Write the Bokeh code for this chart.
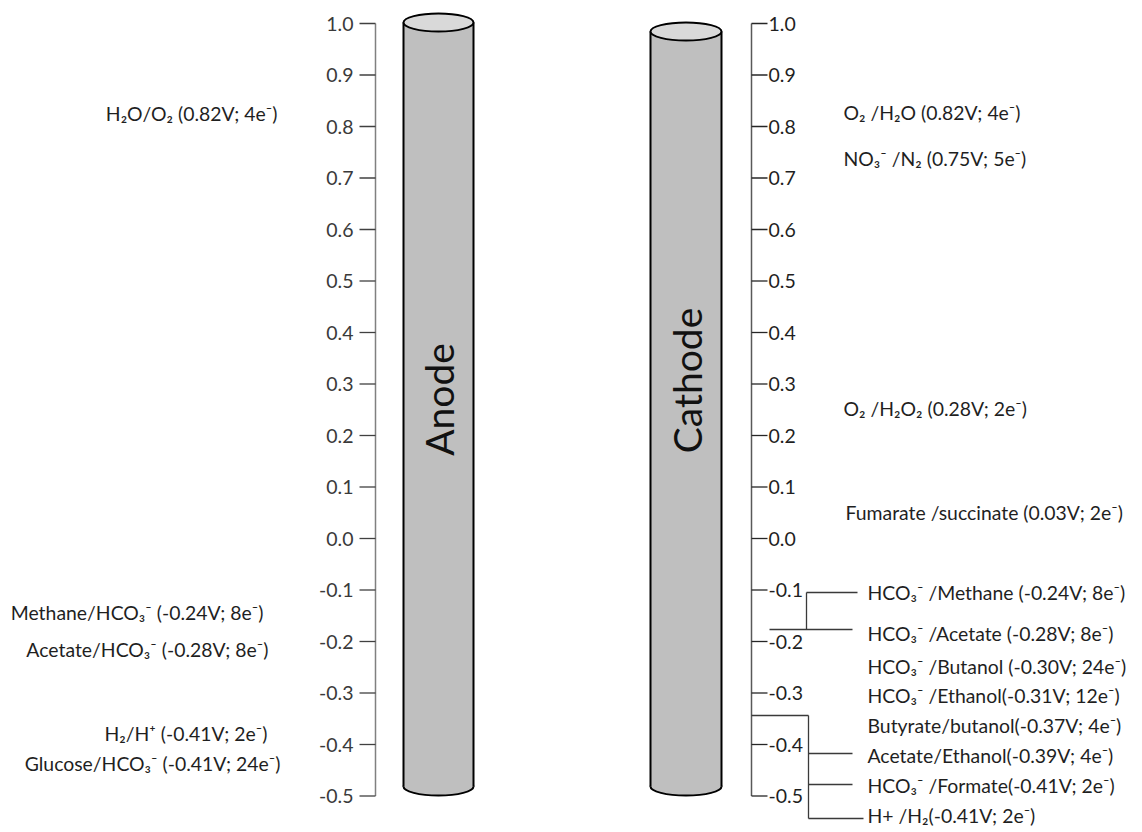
import numpy as np
from bokeh.plotting import figure
from bokeh.models import Range1d
from bokeh.core.properties import value
from bokeh.embed import file_html
from bokeh.resources import INLINE

# ---------------- data ----------------
tick_values = [1.0, 0.9, 0.8, 0.7, 0.6, 0.5, 0.4, 0.3, 0.2, 0.1, 0.0,
               -0.1, -0.2, -0.3, -0.4, -0.5]
tick_labels = ["1.0", "0.9", "0.8", "0.7", "0.6", "0.5", "0.4", "0.3", "0.2",
               "0.1", "0.0", "-0.1", "-0.2", "-0.3", "-0.4", "-0.5"]

electrode_names = ["Anode", "Cathode"]

anode_labels = [
    "H₂O/O₂ (0.82V; 4e⁻)",
    "Methane/HCO₃⁻ (-0.24V; 8e⁻)",
    "Acetate/HCO₃⁻ (-0.28V; 8e⁻)",
    "H₂/H⁺ (-0.41V; 2e⁻)",
    "Glucose/HCO₃⁻ (-0.41V; 24e⁻)",
]
anode_potentials = [0.82, -0.24, -0.28, -0.41, -0.41]

cathode_labels = [
    "O₂ /H₂O (0.82V; 4e⁻)",
    "NO₃⁻ /N₂ (0.75V; 5e⁻)",
    "O₂ /H₂O₂ (0.28V; 2e⁻)",
    "Fumarate /succinate (0.03V; 2e⁻)",
    "HCO₃⁻ /Methane (-0.24V; 8e⁻)",
    "HCO₃⁻ /Acetate (-0.28V; 8e⁻)",
    "HCO₃⁻ /Butanol (-0.30V; 24e⁻)",
    "HCO₃⁻ /Ethanol(-0.31V; 12e⁻)",
    "Butyrate/butanol(-0.37V; 4e⁻)",
    "Acetate/Ethanol(-0.39V; 4e⁻)",
    "HCO₃⁻ /Formate(-0.41V; 2e⁻)",
    "H+ /H₂(-0.41V; 2e⁻)",
]
cathode_potentials = [0.82, 0.75, 0.28, 0.03, -0.24, -0.28, -0.30, -0.31,
                      -0.37, -0.39, -0.41, -0.41]

# ---------------- layout (pixels -> volts) ----------------
W, H = 1142, 832
PX_TOP, PX_PER_V = 23.0, 515.0


def v(py):
    return 1.0 - (py - PX_TOP) / PX_PER_V


def vh(hpx):
    return hpx / PX_PER_V


FONT = value("Lato")
LABEL_SIZE = "19.4px"
TICK_SIZE = "19.5px"

p = figure(width=W, height=H, output_backend="svg", toolbar_location=None,
           x_range=Range1d(0, W), y_range=Range1d(v(H), v(0)),
           min_border=0, x_axis_location=None, y_axis_location=None)
p.grid.visible = False
p.outline_line_color = None
p.background_fill_color = "white"
p.border_fill_color = "white"

# ---------------- cylinders ----------------
cyl = dict(x0=[403, 650], x1=[473, 721], top=[22, 31], bot=[786, 786])
for i in range(2):
    x0, x1 = cyl["x0"][i], cyl["x1"][i]
    xc, w = (x0 + x1) / 2, x1 - x0
    yt, yb = v(cyl["top"][i]), v(cyl["bot"][i])
    p.ellipse(x=[xc], y=[yb], width=[w], height=[vh(18)],
              fill_color="#bfbfbf", line_color="black", line_width=2)
    p.quad(left=[x0], right=[x1], top=[yt], bottom=[yb],
           fill_color="#bfbfbf", line_color=None)
    p.segment(x0=[x0, x1], y0=[yt, yt], x1=[x0, x1], y1=[yb, yb],
              line_color="black", line_width=2)
    p.ellipse(x=[xc], y=[yt], width=[w], height=[vh(18)],
              fill_color="#d9d9d9", line_color="black", line_width=2)

p.text(x=[438, 686], y=[v(399), v(380)], text=electrode_names,
       angle=np.pi / 2, text_font=FONT, text_font_size="39px",
       text_align="center", text_baseline="middle", text_color="#111111")

# ---------------- axes ----------------
n = len(tick_values)
# anode axis (ticks to the left)
ax_a = 375
p.segment(x0=[ax_a], y0=[max(tick_values)], x1=[ax_a], y1=[min(tick_values)],
          line_color="#808080", line_width=1.5)
p.segment(x0=[ax_a - 16] * n, y0=tick_values, x1=[ax_a] * n, y1=tick_values,
          line_color="#404040", line_width=1.3)
p.text(x=[ax_a - 22] * n, y=tick_values, text=tick_labels, text_font=FONT,
       text_font_size=TICK_SIZE, text_align="right", text_baseline="middle",
       text_color="#3a3a3a")

# cathode axis (ticks to the right)
ax_c = 751
p.segment(x0=[ax_c], y0=[max(tick_values)], x1=[ax_c], y1=[min(tick_values)],
          line_color="#595959", line_width=1.5)
p.segment(x0=[ax_c] * n, y0=tick_values, x1=[ax_c + 16] * n, y1=tick_values,
          line_color="#262626", line_width=1.3)
p.text(x=[ax_c + 17] * n, y=tick_values, text=tick_labels, text_font=FONT,
       text_font_size=TICK_SIZE, text_align="left", text_baseline="middle",
       text_color="#1f1f1f")

# ---------------- couple labels ----------------
anode_x = [277, 263, 268, 267, 280]
anode_y = [113, 612, 649, 733, 763]
p.text(x=anode_x, y=[v(y) for y in anode_y], text=anode_labels, text_font=FONT,
       text_font_size=LABEL_SIZE, text_align="right", text_baseline="middle",
       text_color="#1f1f1f")

cathode_x = [843, 843, 843, 845] + [867] * 8
cathode_y = [112, 158, 408, 512, 592, 633, 666, 695, 725, 755, 785, 815]
p.text(x=cathode_x, y=[v(y) for y in cathode_y], text=cathode_labels,
       text_font=FONT, text_font_size=LABEL_SIZE, text_align="left",
       text_baseline="middle", text_color="#1f1f1f")

# ---------------- connector brackets ----------------
br_x0 = [806, 806, 769, 751, 808, 808, 808, 808]
br_y0 = [592, 592, 629, 715, 715, 753, 784, 818]
br_x1 = [857, 806, 852, 808, 808, 852, 852, 863]
br_y1 = [592, 629, 629, 715, 818, 753, 784, 818]
p.segment(x0=br_x0, y0=[v(y) for y in br_y0], x1=br_x1,
          y1=[v(y) for y in br_y1], line_color="#3a3a3a", line_width=1.3)

open("out.html", "w").write(file_html(p, INLINE))
